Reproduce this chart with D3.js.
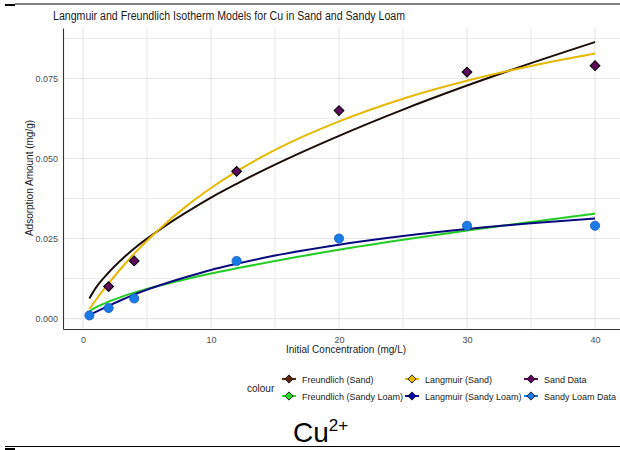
<!DOCTYPE html>
<html>
<head>
<meta charset="utf-8">
<script src="https://cdn.jsdelivr.net/npm/d3@7"></script>
<style>
  body { margin: 0; background: #fff; }
  text { font-family: "Liberation Sans", Arial, sans-serif; }
</style>
</head>
<body>
<div id="chart"></div>
<script>
/* DATA */
const sandX = [2, 4, 12, 20, 30, 40];
const sandY = [0.010, 0.018, 0.046, 0.065, 0.077, 0.079];
const loamX = [0.5, 2, 4, 12, 20, 30, 40];
const loamY = [0.001, 0.0033, 0.0063, 0.018, 0.025, 0.029, 0.029];

// model curves
const curveX = [0.5, 1, 2, 3, 4, 6, 8, 10, 12, 15, 20, 25, 30, 35, 40];
const freundSand = [0.0063, 0.0096, 0.0144, 0.0184, 0.0219, 0.0278, 0.0330, 0.0378, 0.0421, 0.0481, 0.0571, 0.0653, 0.0728, 0.0798, 0.0864];
const langSand = [0.0030, 0.0058, 0.0110, 0.0158, 0.0203, 0.0281, 0.0349, 0.0408, 0.0460, 0.0527, 0.0616, 0.0687, 0.0743, 0.0789, 0.0828];
const freundLoam = [0.0023, 0.0035, 0.0053, 0.0068, 0.0081, 0.0103, 0.0123, 0.0141, 0.0157, 0.0180, 0.0215, 0.0246, 0.0275, 0.0302, 0.0328];
const langLoam = [0.0011, 0.0021, 0.0040, 0.0058, 0.0075, 0.0104, 0.0129, 0.0152, 0.0171, 0.0197, 0.0231, 0.0258, 0.0280, 0.0298, 0.0313];

const xTicks = [0, 10, 20, 30, 40];
const yTicks = [0, 0.025, 0.05, 0.075];
const legendLabels = ["Freundlich (Sand)", "Freundlich (Sandy Loam)", "Langmuir (Sand)", "Langmuir (Sandy Loam)", "Sand Data", "Sandy Loam Data"];
const legendColors = ["#5a260a", "#22dd22", "#e6b800", "#0a0aa8", "#5e0b5e", "#1a7ae6"];

/* SETUP */
const width = 620, height = 450;
const panel = { left: 63, right: 620, top: 28, bottom: 329 };

const svg = d3.select("#chart").append("svg")
  .attr("width", width)
  .attr("height", height);

const xScale = d3.scaleLinear().domain([-1.5625, 41.95]).range([panel.left, panel.right]);
const yScale = d3.scaleLinear().domain([-0.00325, 0.09078]).range([panel.bottom, panel.top]);

// frame lines of the screenshot
svg.append("line").attr("x1", 15).attr("x2", 620).attr("y1", 4).attr("y2", 4)
  .attr("stroke", "#000").attr("stroke-width", 1);
svg.append("line").attr("x1", 5).attr("x2", 15).attr("y1", 5).attr("y2", 5)
  .attr("stroke", "#000").attr("stroke-width", 2);
svg.append("line").attr("x1", 5).attr("x2", 620).attr("y1", 446.5).attr("y2", 446.5)
  .attr("stroke", "#000").attr("stroke-width", 1);
svg.append("line").attr("x1", 5).attr("x2", 15).attr("y1", 449).attr("y2", 449)
  .attr("stroke", "#000").attr("stroke-width", 2);

// title
svg.append("text")
  .attr("x", 53).attr("y", 20)
  .attr("font-size", 12).attr("fill", "#1a1a1a")
  .attr("textLength", 352).attr("lengthAdjust", "spacingAndGlyphs")
  .text("Langmuir and Freundlich Isotherm Models for Cu in Sand and Sandy Loam");

// + GRID
const grid = svg.append("g").attr("stroke", "#e6e6e6");
const xMinor = [5, 15, 25, 35];
const yMinor = [0.0125, 0.0375, 0.0625, 0.0875];
grid.selectAll(".gx").data(xTicks.concat(xMinor)).join("line")
  .attr("x1", d => xScale(d)).attr("x2", d => xScale(d))
  .attr("y1", panel.top).attr("y2", panel.bottom)
  .attr("stroke-width", d => xTicks.includes(d) ? 1.1 : 0.8);
grid.selectAll(".gy").data(yTicks.concat(yMinor)).join("line")
  .attr("y1", d => yScale(d)).attr("y2", d => yScale(d))
  .attr("x1", panel.left).attr("x2", panel.right)
  .attr("stroke-width", d => yTicks.includes(d) ? 1.1 : 0.8);

// + AXES
const xAxis = d3.axisBottom(xScale).tickValues(xTicks).tickSize(0).tickPadding(8).tickFormat(d3.format("d"));
const yAxis = d3.axisLeft(yScale).tickValues(yTicks).tickSize(0).tickPadding(5).tickFormat(d3.format(".3f"));

svg.append("g")
  .attr("transform", `translate(0,${panel.bottom})`)
  .call(xAxis)
  .call(g => g.select(".domain").attr("stroke", "#333").attr("stroke-width", 1.1))
  .call(g => g.selectAll("text").attr("font-size", 9).attr("fill", "#4d4d4d").attr("font-family", "Liberation Sans, Arial, sans-serif"));

svg.append("g")
  .attr("transform", `translate(${panel.left},0)`)
  .call(yAxis)
  .call(g => g.select(".domain").attr("stroke", "#333").attr("stroke-width", 1.1))
  .call(g => g.selectAll("text").attr("font-size", 9).attr("fill", "#4d4d4d").attr("font-family", "Liberation Sans, Arial, sans-serif"));

svg.append("text")
  .attr("x", 346).attr("y", 353)
  .attr("text-anchor", "middle").attr("font-size", 10).attr("fill", "#1a1a1a")
  .text("Initial Concentration (mg/L)");

svg.append("text")
  .attr("transform", "translate(33,178) rotate(-90)")
  .attr("text-anchor", "middle").attr("font-size", 10).attr("fill", "#1a1a1a")
  .text("Adsorption Amount (mg/g)");

// + CURVES
const line = d3.line()
  .x(d => xScale(d[0]))
  .y(d => yScale(d[1]))
  .curve(d3.curveMonotoneX);

const curves = [
  { vals: freundSand, color: "#1c0d08" },
  { vals: langSand, color: "#e6b800" },
  { vals: freundLoam, color: "#22cc22" },
  { vals: langLoam, color: "#0a0a80" }
];
svg.selectAll(".curve").data(curves).join("path")
  .attr("class", "curve")
  .attr("fill", "none")
  .attr("stroke", d => d.color)
  .attr("stroke-width", 2)
  .attr("d", d => line(curveX.map((x, i) => [x, d.vals[i]])));

// + POINTS
const diamond = d3.symbol().type(d3.symbolSquare).size(48);
svg.selectAll(".sand").data(sandX.map((x, i) => [x, sandY[i]])).join("path")
  .attr("class", "sand")
  .attr("d", diamond)
  .attr("transform", d => `translate(${xScale(d[0])},${yScale(d[1])}) rotate(45)`)
  .attr("fill", "#5e0b5e")
  .attr("stroke", "#000")
  .attr("stroke-width", 1);

svg.selectAll(".loam").data(loamX.map((x, i) => [x, loamY[i]])).join("circle")
  .attr("class", "loam")
  .attr("cx", d => xScale(d[0]))
  .attr("cy", d => yScale(d[1]))
  .attr("r", 4.6)
  .attr("fill", "#1a7ae6")
  .attr("stroke", "#1560c0")
  .attr("stroke-width", 0.8);

// + LEGEND
svg.append("text")
  .attr("x", 247).attr("y", 392)
  .attr("font-size", 10).attr("fill", "#1a1a1a")
  .text("colour");

const colX = [289, 412, 531];
const rowY = [379, 396];
const legend = svg.selectAll(".key").data(legendLabels).join("g")
  .attr("class", "key")
  .attr("transform", (d, i) => `translate(${colX[Math.floor(i / 2)]},${rowY[i % 2]})`);

legend.append("line")
  .attr("x1", -7).attr("x2", 7)
  .attr("stroke", (d, i) => legendColors[i])
  .attr("stroke-width", 2);
legend.append("path")
  .attr("d", d3.symbol().type(d3.symbolSquare).size(34))
  .attr("transform", "rotate(45)")
  .attr("fill", (d, i) => legendColors[i])
  .attr("stroke", "#000")
  .attr("stroke-width", 0.8);
legend.append("text")
  .attr("x", 13).attr("y", 3.5)
  .attr("font-size", 9).attr("fill", "#1a1a1a")
  .text(d => d);

// ion label
const ion = svg.append("text")
  .attr("x", 293).attr("y", 442)
  .attr("font-size", 28).attr("fill", "#000");
ion.append("tspan").text("Cu");
ion.append("tspan").attr("font-size", 17).attr("dy", -11).text("2+");
</script>
</body>
</html>
